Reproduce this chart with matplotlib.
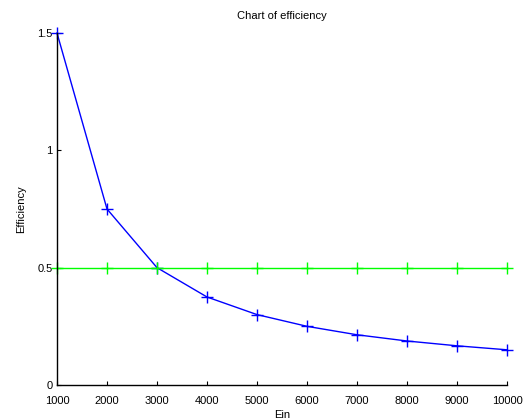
import matplotlib
matplotlib.use("Agg")
import matplotlib.pyplot as plt

# data
ein = [1000, 2000, 3000, 4000, 5000, 6000, 7000, 8000, 9000, 10000]
efficiency = [1.5, 0.75, 0.5, 0.375, 0.3, 0.25, 0.214, 0.1875, 0.167, 0.15]
reference = [0.5, 0.5, 0.5, 0.5, 0.5, 0.5, 0.5, 0.5, 0.5, 0.5]

plt.rcParams['font.family'] = ['Liberation Sans', 'DejaVu Sans']
plt.rcParams['font.size'] = 8

fig = plt.figure(figsize=(5.26, 4.2), dpi=100)
ax = fig.add_axes([57 / 526, 35 / 420, 450 / 526, 352 / 420])

ax.plot(ein, efficiency, color='#0000ff', marker='+', markersize=8,
        markeredgewidth=1, linewidth=1, clip_on=False)
ax.plot(ein, reference, color='#00ff00', marker='+', markersize=8,
        markeredgewidth=1, linewidth=1, clip_on=False)

ax.set_xlim(1000, 10000)
ax.set_ylim(0, 1.5)
ax.set_xticks(ein)
ax.set_yticks([0, 0.5, 1, 1.5])
ax.set_yticklabels(['0', '0.5', '1', '1.5'])

ax.spines['top'].set_visible(False)
ax.spines['right'].set_visible(False)
ax.spines['left'].set_linewidth(1)
ax.spines['bottom'].set_linewidth(1)
ax.tick_params(direction='in', length=3, width=0.8, pad=3)
ax.tick_params(axis='x', pad=8)

ax.set_title('Chart of efficiency', fontsize=8, pad=10)
ax.set_xlabel('Ein', labelpad=3)
ax.set_ylabel('Efficiency', labelpad=8)

fig.savefig('out.png', dpi=100, facecolor='white')
